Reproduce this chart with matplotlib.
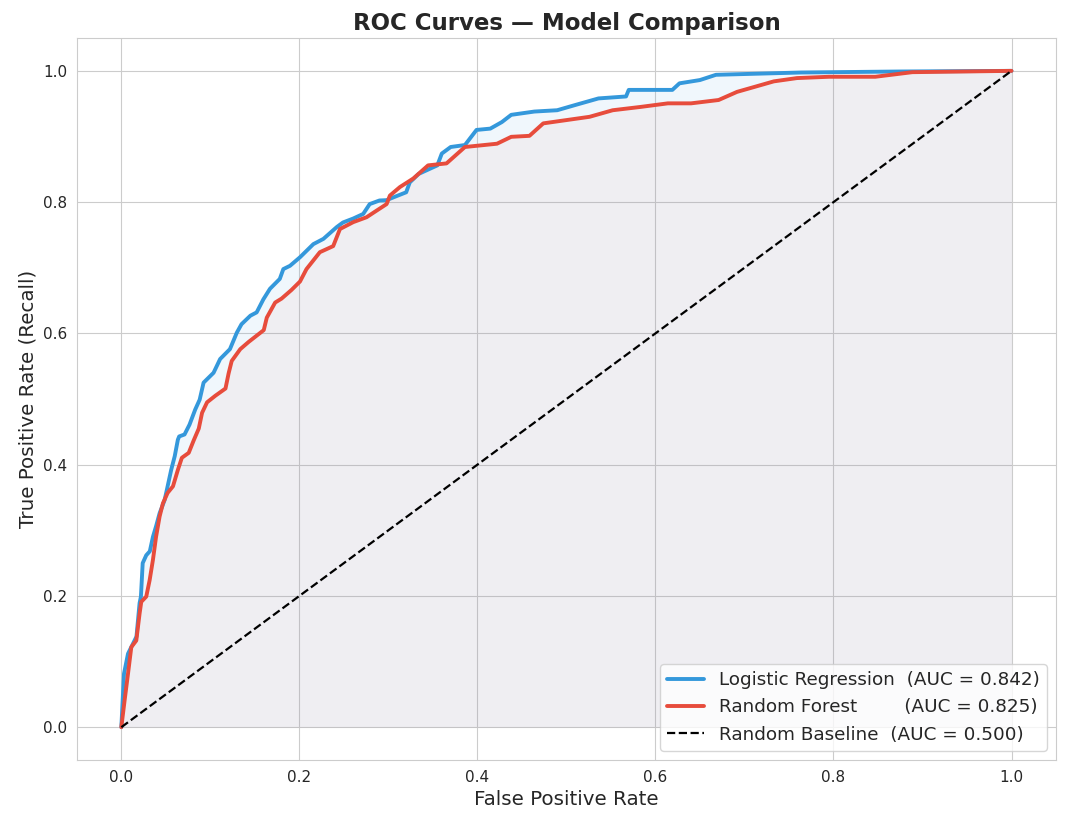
import matplotlib
matplotlib.use("Agg")
import matplotlib.pyplot as plt
import seaborn as sns

# ROC points
lr_fpr = [0, 0.003, 0.0075, 0.013, 0.017, 0.0205, 0.022, 0.024, 0.028, 0.032, 0.0355,
          0.039, 0.043, 0.0486, 0.052, 0.056, 0.060, 0.0635, 0.065, 0.071, 0.0766, 0.083,
          0.088, 0.0924, 0.1036, 0.111, 0.122, 0.1297, 0.135, 0.145, 0.152, 0.1596, 0.167,
          0.178, 0.182, 0.1895, 0.2007, 0.2157, 0.227, 0.242, 0.249, 0.2605, 0.2717, 0.279,
          0.290, 0.298, 0.307, 0.320, 0.324, 0.334, 0.355, 0.360, 0.370, 0.386, 0.399,
          0.4145, 0.4275, 0.438, 0.464, 0.4896, 0.510, 0.536, 0.567, 0.570, 0.619, 0.627,
          0.650, 0.668, 0.764, 0.873, 1.0]
lr_tpr = [0, 0.0815, 0.112, 0.127, 0.138, 0.189, 0.199, 0.250, 0.262, 0.268, 0.290,
          0.306, 0.326, 0.346, 0.367, 0.392, 0.413, 0.438, 0.443, 0.446, 0.461, 0.484,
          0.499, 0.525, 0.540, 0.561, 0.576, 0.601, 0.614, 0.627, 0.632, 0.652, 0.668,
          0.683, 0.698, 0.703, 0.716, 0.736, 0.744, 0.762, 0.769, 0.775, 0.782, 0.797,
          0.8025, 0.803, 0.808, 0.815, 0.830, 0.843, 0.856, 0.874, 0.884, 0.887, 0.910,
          0.912, 0.922, 0.933, 0.938, 0.940, 0.948, 0.958, 0.961, 0.971, 0.971, 0.981,
          0.986, 0.994, 0.9975, 0.999, 1.0]

rf_fpr = [0, 0.0037, 0.0075, 0.0112, 0.0168, 0.0205, 0.0224, 0.028, 0.0318, 0.0355, 0.039,
          0.043, 0.0467, 0.052, 0.058, 0.0635, 0.068, 0.0757, 0.0813, 0.087, 0.0907, 0.0963,
          0.1056, 0.117, 0.1205, 0.124, 0.1336, 0.143, 0.160, 0.1634, 0.1728, 0.180, 0.191,
          0.2007, 0.208, 0.223, 0.238, 0.2456, 0.2605, 0.2755, 0.2867, 0.298, 0.3017, 0.313,
          0.328, 0.3446, 0.3653, 0.386, 0.422, 0.438, 0.4585, 0.474, 0.500, 0.526, 0.552,
          0.583, 0.614, 0.640, 0.671, 0.6917, 0.7124, 0.733, 0.759, 0.795, 0.847, 0.8886, 1.0]
rf_tpr = [0, 0.041, 0.0815, 0.122, 0.132, 0.173, 0.191, 0.199, 0.224, 0.255, 0.290,
          0.321, 0.341, 0.357, 0.367, 0.392, 0.4105, 0.418, 0.437, 0.455, 0.479, 0.495,
          0.505, 0.516, 0.539, 0.558, 0.576, 0.587, 0.605, 0.624, 0.647, 0.653, 0.666,
          0.679, 0.698, 0.7237, 0.733, 0.759, 0.7695, 0.777, 0.787, 0.797, 0.810, 0.823,
          0.836, 0.856, 0.859, 0.884, 0.889, 0.8995, 0.901, 0.920, 0.925, 0.930, 0.940,
          0.945, 0.9505, 0.9505, 0.9556, 0.968, 0.976, 0.984, 0.989, 0.991, 0.991, 0.998, 1.0]

base_fpr = [0, 1]
base_tpr = [0, 1]

lr_auc = 0.842
rf_auc = 0.825
base_auc = 0.500


def main():
    sns.set_style("whitegrid")
    fig, ax = plt.subplots(figsize=(10.67, 8.27), dpi=100)
    fig.subplots_adjust(left=0.072, right=0.9897, bottom=0.081, top=0.954)

    ax.plot(lr_fpr, lr_tpr, color="#3498db", lw=2.8,
            label=f"Logistic Regression  (AUC = {lr_auc:.3f})")
    ax.fill_between(lr_fpr, lr_tpr, color="#3498db", alpha=0.07, lw=0)
    ax.plot(rf_fpr, rf_tpr, color="#e74c3c", lw=2.8,
            label=f"Random Forest        (AUC = {rf_auc:.3f})")
    ax.fill_between(rf_fpr, rf_tpr, color="#e74c3c", alpha=0.05, lw=0)
    ax.plot(base_fpr, base_tpr, "k--", lw=1.6,
            label=f"Random Baseline  (AUC = {base_auc:.3f})")

    ax.set_xlim(-0.05, 1.05)
    ax.set_ylim(-0.05, 1.05)
    ax.set_xlabel("False Positive Rate", fontsize=14.3)
    ax.set_ylabel("True Positive Rate (Recall)", fontsize=14.3)
    ax.set_title("ROC Curves — Model Comparison", fontsize=16.5, fontweight="bold")
    ax.tick_params(labelsize=11)
    ax.legend(loc="lower right", fontsize=13.2)

    fig.savefig("out.png", dpi=100)


if __name__ == "__main__":
    main()
